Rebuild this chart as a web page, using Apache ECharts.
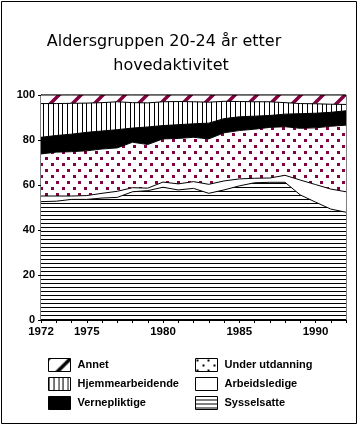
<!DOCTYPE html>
<html><head><meta charset="utf-8">
<script src="https://cdn.jsdelivr.net/npm/echarts@6/dist/echarts.min.js"></script>
<style>html,body{margin:0;padding:0;background:#fff}#c{width:360px;height:428px}</style>
</head><body><div id="c"></div>
<script>
const years = [1972,1973,1974,1975,1976,1977,1978,1979,1980,1981,1982,1983,1984,1985,1986,1987,1988,1989,1990,1991,1992];
const sysselsatte      = [52.6,52.8,53.6,53.6,54.2,54.5,57.0,57.5,59.0,57.8,58.5,56.3,57.8,59.6,61.0,61.2,61.2,55.6,52.4,49.3,47.9];
const arbeidsledige    = [2.5,2.3,1.5,1.7,2.1,2.7,1.8,1.1,2.3,2.7,3.0,4.0,4.0,3.1,2.0,1.9,3.1,6.6,7.8,8.9,9.1];
const underUtdanning   = [18.7,19.5,19.7,19.9,19.7,19.3,20.2,19.4,19.2,20.2,19.7,20.2,21.4,21.5,21.8,22.5,21.6,23.0,25.2,27.9,29.6];
const vernepliktige    = [7.4,7.4,7.8,8.2,8.0,8.1,6.3,7.8,5.9,6.1,6.0,7.0,6.3,6.1,5.8,5.3,5.6,6.5,6.5,6.2,6.4];
const hjemmearbeidende = [15.0,14.2,13.7,13.0,12.6,12.4,11.3,10.7,10.6,10.3,9.8,9.3,7.7,6.8,6.4,6.1,5.1,4.5,4.2,3.6,2.8];
const annet            = [3.8,3.8,3.7,3.6,3.4,3.0,3.4,3.5,3.0,2.9,3.0,3.2,2.8,2.9,3.0,3.0,3.4,3.8,3.9,4.1,4.2];
const xTickLabels = [1972,1975,1980,1985,1990];
const yTickLabels = [0,20,40,60,80,100];
const titleLines = ['Aldersgruppen 20-24 år etter','hovedaktivitet'];
const legendLeft = ['Annet','Hjemmearbeidende','Vernepliktige'];
const legendRight = ['Under utdanning','Arbeidsledige','Sysselsatte'];

const MAROON = '#800040';
function tile(w,h,draw){const c=document.createElement('canvas');c.width=w;c.height=h;const g=c.getContext('2d');g.fillStyle='#fff';g.fillRect(0,0,w,h);draw(g);return {image:c,repeat:'repeat'};}
const patH = tile(4,4,g=>{g.fillStyle='#000';g.fillRect(0,3,4,1);});
const patV = tile(24,4,g=>{g.fillStyle='#000';[0,5,10,14,19].forEach(x=>g.fillRect(x,0,1,4));});
function dots(col,w,h,s){return tile(w,h,g=>{g.fillStyle=col;g.fillRect(1,1,s,s);g.fillRect(1+Math.round(w/2),1+h/2,s,s);});}
function hatch(col){return tile(22,22,g=>{
  g.strokeStyle='#c8c8c8';g.lineWidth=1;
  [-11,11,33].forEach(o=>{g.beginPath();g.moveTo(o-12,24);g.lineTo(o+12,-2);g.stroke();});
  g.strokeStyle=col;g.lineWidth=3.5;
  [-22,0,22].forEach(o=>{g.beginPath();g.moveTo(o-2,24);g.lineTo(o+24,-2);g.stroke();});
});}
const patDots = dots(MAROON,11,12,3), patDotsL = dots('#000',11,10,2);
const patAnnet = hatch(MAROON), patAnnetL = hatch('#000');

const fills = {
  'Sysselsatte': [patH, patH],
  'Arbeidsledige': ['#fff','#fff'],
  'Under utdanning': [patDots, patDotsL],
  'Vernepliktige': ['#000','#000'],
  'Hjemmearbeidende': [patV, patV],
  'Annet': [patAnnet, patAnnetL]
};
const seriesDefs = [
  ['Sysselsatte', sysselsatte],
  ['Arbeidsledige', arbeidsledige],
  ['Under utdanning', underUtdanning],
  ['Vernepliktige', vernepliktige],
  ['Hjemmearbeidende', hjemmearbeidende],
  ['Annet', annet]
];
const series = seriesDefs.map(([name, vals], i) => ({
  name, type:'line', stack:'total', symbol:'none', showSymbol:false,
  z: 10 - i,
  data: vals,
  lineStyle:{color:'#000', width:1},
  itemStyle:{color: fills[name][0]},
  areaStyle:{color: fills[name][0], opacity:1},
  emphasis:{disabled:true}, silent:true
}));
const legText = {color:'#000', fontFamily:'Liberation Sans', fontWeight:'bold', fontSize:11, lineHeight:13, padding:[0,0,0,2]};
function legData(names){return names.map(n=>({name:n, icon:'rect', itemStyle:{color:fills[n][1], borderColor:'#000', borderWidth:1}}));}

const chart = echarts.init(document.getElementById('c'), null, {renderer:'canvas'});
chart.setOption({
  animation:false,
  backgroundColor:'#fff',
  grid:{left:41, right:14, top:95, bottom:108, show:true, borderColor:'#000', borderWidth:1, backgroundColor:'transparent'},
  xAxis:{type:'category', data: years.map(String), boundaryGap:false,
    axisLine:{lineStyle:{color:'#000', width:1}},
    axisTick:{interval:0, length:3, lineStyle:{color:'#000'}},
    splitLine:{show:false},
    axisLabel:{interval:0, color:'#000', fontFamily:'Liberation Sans', fontWeight:'bold', fontSize:11.5, margin:6,
      formatter:v=>xTickLabels.includes(Number(v))?v:''}},
  yAxis:{type:'value', min:0, max:100, interval:20,
    axisLine:{show:true, lineStyle:{color:'#000', width:1}},
    axisTick:{show:true, length:3, lineStyle:{color:'#000'}},
    splitLine:{show:false},
    axisLabel:{color:'#000', fontFamily:'Liberation Sans', fontWeight:'bold', fontSize:11, margin:6,
      formatter:v=>yTickLabels.includes(v)?String(v):''}},
  legend:[
    {left:48, top:358, padding:0, orient:'vertical', itemWidth:22, itemHeight:13, itemGap:5, selectedMode:false, data:legData(legendLeft), textStyle:legText},
    {left:195, top:358, padding:0, orient:'vertical', itemWidth:22, itemHeight:13, itemGap:5, selectedMode:false, data:legData(legendRight), textStyle:legText}
  ],
  graphic:[
    {type:'rect', shape:{x:1.5, y:1.5, width:355, height:422}, style:{fill:'none', stroke:'#000', lineWidth:1}, silent:true},
    {type:'text', x:164, y:42, style:{text:titleLines[0], fill:'#000', font:'16px "DejaVu Sans"', textAlign:'center', textVerticalAlign:'middle'}},
    {type:'text', x:171, y:65.5, style:{text:titleLines[1], fill:'#000', font:'16px "DejaVu Sans"', textAlign:'center', textVerticalAlign:'middle'}}
  ],
  series
});
</script></body></html>
